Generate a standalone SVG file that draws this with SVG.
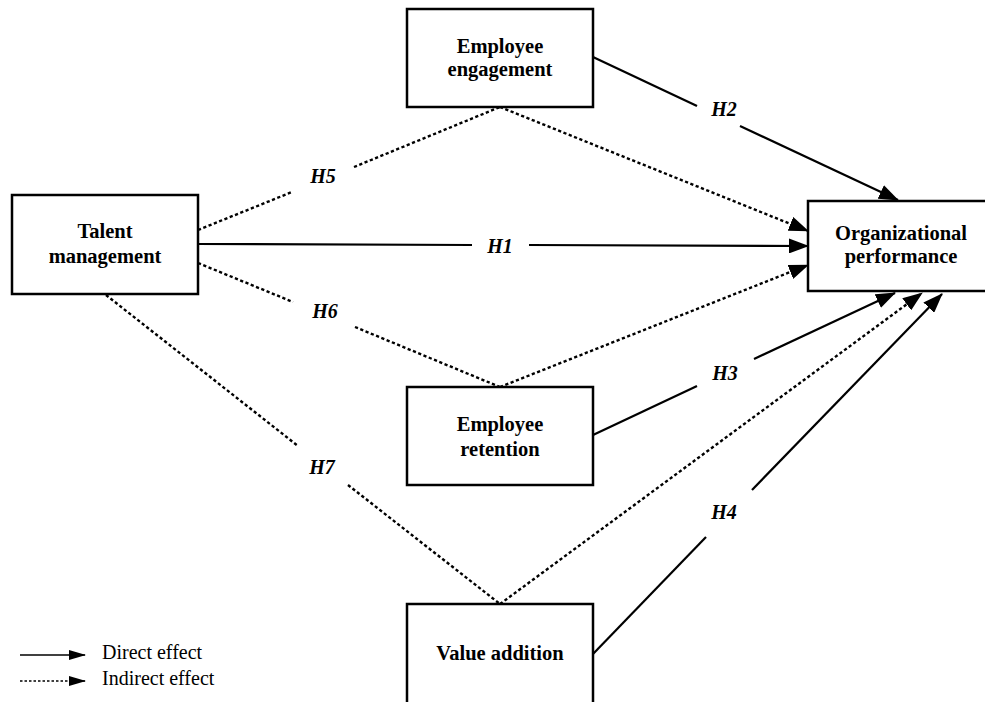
<svg xmlns="http://www.w3.org/2000/svg" width="985" height="702" viewBox="0 0 985 702">
<style>
.box{fill:#fff;stroke:#000;stroke-width:2.5}
.nt{font-family:"Liberation Serif","Times New Roman",serif;font-weight:bold;font-size:20.5px;text-anchor:middle;fill:#000}
.hl{font-family:"Liberation Serif","Times New Roman",serif;font-weight:bold;font-style:italic;font-size:20px;text-anchor:middle;fill:#000}
.lg{font-family:"Liberation Serif","Times New Roman",serif;font-size:20px;fill:#000}
.sol{fill:none;stroke:#000;stroke-width:2.2}
.dot{fill:none;stroke:#000;stroke-width:2.4;stroke-dasharray:3.2 2.5}
.lsol{fill:none;stroke:#000;stroke-width:1.6}
.ldot{fill:none;stroke:#000;stroke-width:1.6;stroke-dasharray:2.5 2}
</style>
<defs>
<marker id="ah" viewBox="0 0 20 15" refX="19" refY="7.5" markerWidth="20" markerHeight="15" orient="auto" markerUnits="userSpaceOnUse">
<path d="M0,0 L20,7.5 L0,15 z" fill="#000"/>
</marker>
<marker id="ahs" viewBox="0 0 17 10" refX="16" refY="5" markerWidth="17" markerHeight="10" orient="auto" markerUnits="userSpaceOnUse">
<path d="M0,0 L17,5 L0,10 z" fill="#000"/>
</marker>
</defs>
<rect width="985" height="702" fill="#fff"/>

<g id="connectors">
<!-- H1 -->
<line class="sol" x1="198" y1="244" x2="472" y2="245"/>
<line class="sol" x1="529" y1="245" x2="808" y2="246" marker-end="url(#ah)"/>
<!-- H2 -->
<line class="sol" x1="593" y1="57" x2="697" y2="106"/>
<line class="sol" x1="740" y1="126" x2="898" y2="200" marker-end="url(#ah)"/>
<!-- H5 -->
<line class="dot" x1="198" y1="230" x2="292" y2="192"/>
<line class="dot" x1="354" y1="167" x2="500" y2="107"/>
<line class="dot" x1="500" y1="107" x2="808" y2="231" marker-end="url(#ah)"/>
<!-- H6 -->
<line class="dot" x1="198" y1="263" x2="293" y2="302"/>
<line class="dot" x1="355" y1="327" x2="500" y2="387"/>
<line class="dot" x1="500" y1="387" x2="808" y2="265" marker-end="url(#ah)"/>
<!-- H3 -->
<line class="sol" x1="593" y1="435" x2="697" y2="386"/>
<line class="sol" x1="754" y1="359" x2="895" y2="293" marker-end="url(#ah)"/>
<!-- H7 -->
<line class="dot" x1="106" y1="295" x2="298" y2="446"/>
<line class="dot" x1="348" y1="485" x2="500" y2="604"/>
<line class="dot" x1="500" y1="604" x2="922" y2="293" marker-end="url(#ah)"/>
<!-- H4 -->
<line class="sol" x1="593" y1="654" x2="706" y2="537"/>
<line class="sol" x1="752" y1="490" x2="942" y2="294" marker-end="url(#ah)"/>
</g>

<g id="labels">
<text class="hl" x="500" y="253">H1</text>
<text class="hl" x="724" y="116">H2</text>
<text class="hl" x="725" y="380">H3</text>
<text class="hl" x="724" y="519">H4</text>
<text class="hl" x="323" y="183">H5</text>
<text class="hl" x="325" y="318">H6</text>
<text class="hl" x="322" y="474">H7</text>
</g>

<g id="talent">
<rect class="box" x="12" y="195" width="186" height="99"/>
<text class="nt" x="105" y="238">Talent</text>
<text class="nt" x="105" y="263">management</text>
</g>
<g id="engagement">
<rect class="box" x="407" y="9" width="186" height="98"/>
<text class="nt" x="500" y="53">Employee</text>
<text class="nt" x="500" y="76">engagement</text>
</g>
<g id="retention">
<rect class="box" x="407" y="387" width="186" height="98"/>
<text class="nt" x="500" y="431">Employee</text>
<text class="nt" x="500" y="456">retention</text>
</g>
<g id="value">
<rect class="box" x="407" y="604" width="186" height="110"/>
<text class="nt" x="500" y="660">Value addition</text>
</g>
<g id="performance">
<rect class="box" x="808" y="201" width="190" height="90"/>
<text class="nt" x="901" y="240">Organizational</text>
<text class="nt" x="901" y="263">performance</text>
</g>

<g id="legend">
<line class="lsol" x1="20" y1="655" x2="85" y2="655" marker-end="url(#ahs)"/>
<text class="lg" x="102" y="659">Direct effect</text>
<line class="ldot" x1="20" y1="681" x2="85" y2="681" marker-end="url(#ahs)"/>
<text class="lg" x="102" y="685">Indirect effect</text>
</g>
</svg>
